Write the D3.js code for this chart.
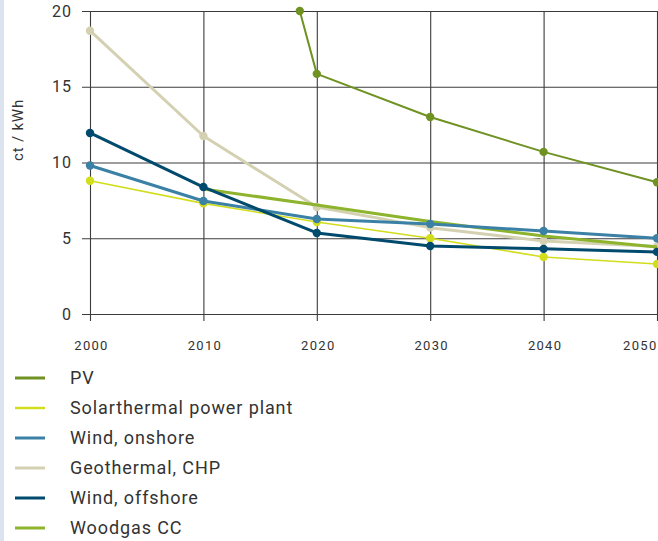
<!DOCTYPE html>
<html>
<head>
<meta charset="utf-8">
<script src="https://cdn.jsdelivr.net/npm/d3@7"></script>
<style>
  html, body { margin: 0; padding: 0; background: #fff; }
  svg { display: block; }
  text { font-family: Roboto, "DejaVu Sans", sans-serif; fill: #333; }
</style>
</head>
<body>
<svg id="chart" width="658" height="541"></svg>
<script>
// ---- data ----
const years = [2000, 2010, 2020, 2030, 2040, 2050];
const yTicks = [0, 5, 10, 15, 20];
const yLabel = "ct / kWh";

const seriesNames = ["PV", "Solarthermal power plant", "Wind, onshore", "Geothermal, CHP", "Wind, offshore", "Woodgas CC"];
const seriesColors = ["#6f9222", "#d2dd1c", "#3b80a5", "#d4d1b2", "#004a6e", "#8db42c"];

const pvYears = [2018.5, 2020, 2030, 2040, 2050];
const pvValues = [20, 15.85, 13.0, 10.7, 8.7];
const solarValues = [8.8, 7.3, 6.07, 5.0, 3.76, 3.3];
const onshoreValues = [9.8, 7.46, 6.27, 5.94, 5.48, 5.0];
const geothermalValues = [18.7, 11.75, 7.06, 5.7, 4.82, 4.45];
const offshoreValues = [11.95, 8.38, 5.35, 4.49, 4.3, 4.1];
const woodgasYears = [2010, 2020, 2030, 2040, 2050];
const woodgasValues = [8.25, 7.2, 6.1, 5.15, 4.42];

// ---- chart ----
const svg = d3.select("#chart");
const x = d3.scaleLinear().domain([2000, 2050]).range([90, 657]);
const y = d3.scaleLinear().domain([0, 20]).range([314, 11]);

// left strip
svg.append("rect").attr("x", 0).attr("y", 0).attr("width", 4).attr("height", 541).attr("fill", "#dae3ee");

// horizontal grid + ticks
const yAxis = d3.axisLeft(y).tickValues(yTicks).tickSize(-(657 - 82)).tickPadding(10).tickFormat(d3.format("d"));
const gy = svg.append("g").attr("transform", "translate(82,0)").call(yAxis);
gy.select(".domain").remove();
gy.selectAll(".tick line").attr("x1", 0).attr("x2", 657 - 82 + 1).attr("stroke", "#3c3c3c").attr("stroke-width", 1.1);
gy.selectAll(".tick text").attr("x", -10).style("font-size", "16px").style("letter-spacing", "1px").attr("fill", "#333");

// vertical grid
const xAxis = d3.axisBottom(x).tickValues(years).tickSize(-(321 - 11)).tickPadding(0).tickFormat(d3.format("d"));
const gx = svg.append("g").attr("transform", "translate(0,321)").call(xAxis);
gx.select(".domain").remove();
gx.selectAll(".tick line").attr("stroke", "#3c3c3c").attr("stroke-width", 1.1);
gx.selectAll(".tick text")
  .attr("y", 29)
  .attr("dy", 0)
  .style("font-size", "13px")
  .style("letter-spacing", "1.3px")
  .attr("fill", "#333")
  .attr("text-anchor", (d, i) => i === years.length - 1 ? "end" : "middle")
  .attr("dx", (d, i) => i === years.length - 1 ? 0 : 1);

// y label
svg.append("text")
  .attr("transform", "translate(23,130) rotate(-90)")
  .attr("text-anchor", "middle")
  .style("font-size", "15px")
  .style("letter-spacing", "0.8px")
  .text(yLabel);

const line = d3.line().x(d => x(d[0])).y(d => y(d[1]));

const series = [
  { name: seriesNames[0], color: seriesColors[0], pts: d3.zip(pvYears, pvValues), w: 2, dots: true },
  { name: seriesNames[1], color: seriesColors[1], pts: d3.zip(years, solarValues), w: 1.6, dots: true },
  { name: seriesNames[3], color: seriesColors[3], pts: d3.zip(years, geothermalValues), w: 3, dots: true },
  { name: seriesNames[5], color: seriesColors[5], pts: d3.zip(woodgasYears, woodgasValues), w: 3, dots: false },
  { name: seriesNames[2], color: seriesColors[2], pts: d3.zip(years, onshoreValues), w: 3, dots: true },
  { name: seriesNames[4], color: seriesColors[4], pts: d3.zip(years, offshoreValues), w: 3, dots: true }
];

series.forEach(s => {
  svg.append("path").datum(s.pts).attr("d", line)
    .attr("fill", "none").attr("stroke", s.color).attr("stroke-width", s.w)
    .attr("stroke-linejoin", "round");
  if (s.dots) {
    svg.append("g").selectAll("circle").data(s.pts).join("circle")
      .attr("cx", d => x(d[0])).attr("cy", d => y(d[1])).attr("r", 4.2)
      .attr("fill", s.color);
  }
});

// legend
const legendWidths = [3, 2.5, 3, 3, 3, 3];
const lg = svg.append("g").attr("transform", "translate(0,378)");
seriesNames.forEach((n, i) => {
  const g = lg.append("g").attr("transform", `translate(0,${i * 30})`);
  g.append("line").attr("x1", 15).attr("x2", 45).attr("y1", 0).attr("y2", 0)
    .attr("stroke", seriesColors[i]).attr("stroke-width", legendWidths[i]);
  g.append("text").attr("x", 70).attr("y", 0).attr("dy", "0.36em")
    .style("font-size", "18px").style("letter-spacing", "0.9px").text(n);
});
</script>
</body>
</html>
